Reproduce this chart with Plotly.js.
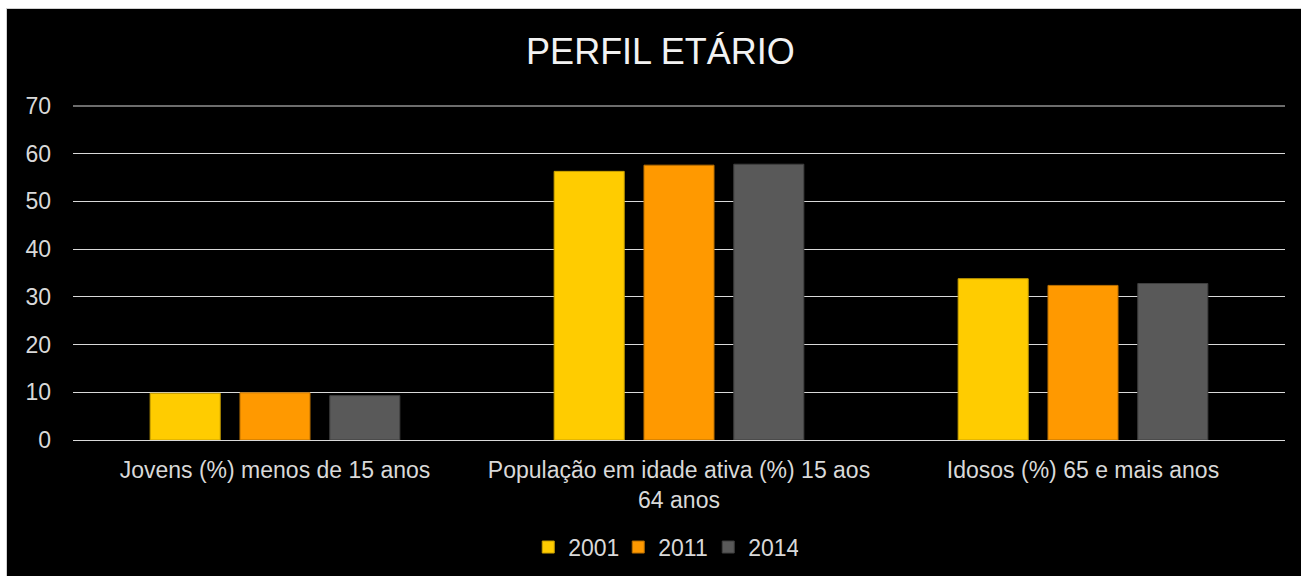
<!DOCTYPE html>
<html>
<head>
<meta charset="utf-8">
<script src="https://cdn.plot.ly/plotly-3.0.1.min.js"></script>
<style>
html,body{margin:0;padding:0;background:#ffffff;width:1301px;height:576px;overflow:hidden;}
#chart{position:absolute;left:6px;top:8px;width:1294px;height:567px;border-left:1px solid #D0D0D0;border-top:1px solid #D0D0D0;background:#000;}
</style>
</head>
<body>
<div id="chart"></div>
<script>
var categories = ["Jovens (%) menos de 15 anos", "População em idade ativa (%) 15 aos<br>64 anos", "Idosos (%) 65 e mais anos"];
var seriesNames = ["2001", "2011", "2014"];
var values2001 = [9.8, 56.3, 33.8];
var values2011 = [9.9, 57.6, 32.4];
var values2014 = [9.3, 57.8, 32.8];
var colors = ["#FFCC00", "#FF9900", "#595959"];
var outline = ["#C9A000", "#B86E00", "#3F3F3F"];
var yTicks = [0, 10, 20, 30, 40, 50, 60, 70];

var seriesValues = [values2001, values2011, values2014];
var traces = seriesNames.map(function(n, i){
  return {type:'bar', name:n, x:categories, y:seriesValues[i],
    marker:{color:colors[i], line:{color:outline[i], width:1}}, hoverinfo:'none'};
});

var txt = '#D9D9D9';
var fontFam = '"Liberation Sans", Arial, sans-serif';
var yMax = yTicks[yTicks.length - 1];
var layout = {
  width:1294, height:567,
  paper_bgcolor:'#000000', plot_bgcolor:'#000000',
  margin:{l:66, r:16, t:97, b:136},
  font:{family:fontFam, size:23, color:txt},
  title:{text:'PERFIL ETÁRIO', font:{family:fontFam, size:36, color:'#F2F2F2'}, x:0.505, xanchor:'center', y:0.925, yanchor:'middle', yref:'container'},
  barmode:'group', bargap:0.333, bargroupgap:0.22,
  xaxis:{type:'category', showgrid:false, showline:false, zeroline:false, ticks:'', tickfont:{size:23, color:txt}, ticklabelstandoff:14, fixedrange:true},
  yaxis:{range:[0,yMax], tickvals:yTicks, ticktext:yTicks.map(String), showgrid:true, gridcolor:'#D9D9D9', gridwidth:1, zeroline:true, zerolinecolor:'#D9D9D9', zerolinewidth:1, showline:false, ticks:'', tickfont:{size:23, color:txt}, ticklabelstandoff:21, fixedrange:true},
  shapes:[{type:'line', xref:'paper', x0:0, x1:1, yref:'paper', y0:1, y1:1, line:{color:'#D9D9D9', width:1}, layer:'above'}],
  showlegend:true,
  legend:{orientation:'h', x:0.487, xanchor:'center', y:0.051, yanchor:'middle', yref:'container', font:{size:23, color:txt}, bgcolor:'rgba(0,0,0,0)', itemclick:false, traceorder:'normal', entrywidth:45, entrywidthmode:'pixels'}
};
Plotly.newPlot('chart', traces, layout, {displayModeBar:false, staticPlot:true});
</script>
</body>
</html>
